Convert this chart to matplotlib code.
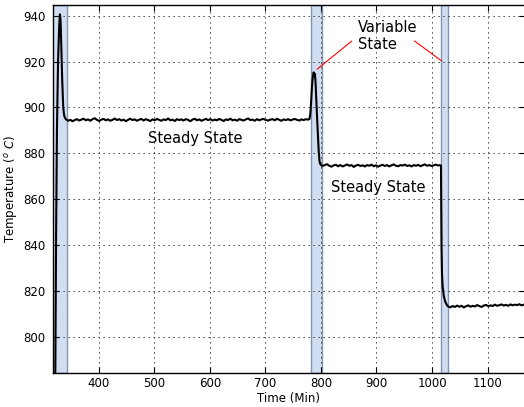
import numpy as np
import matplotlib.pyplot as plt

# Furnace temperature record (min, deg C)
t_rise1 = [321.5, 322.5, 323.5, 325.0, 327.0, 329.0, 330.4, 331.5, 333.0, 334.5,
           336.3, 338.0, 340.0, 342.5]
T_rise1 = [760.0, 800.0, 845.0, 890.0, 920.0, 935.0, 940.6, 938.0, 925.0, 912.0,
           900.0, 896.5, 895.2, 894.6]

t_steady1 = np.arange(345, 778, 4)
T_steady1 = [894.2, 894.6, 894.0, 894.5, 894.9, 894.3, 894.7, 895.1, 894.4, 894.8,
             894.2, 894.9, 895.3, 894.6, 894.1, 894.7, 895.0, 894.4, 894.8, 894.2,
             894.6, 895.2, 894.5, 894.9, 894.3, 894.7, 894.0, 894.6, 895.1, 894.5,
             894.8, 894.2, 894.7, 895.0, 894.3, 894.9, 894.5, 894.1, 894.8, 894.4,
             895.0, 894.6, 894.2, 894.8, 894.5, 895.2, 894.4, 894.7, 894.1, 894.9,
             894.5, 894.8, 894.3, 894.9, 894.6, 894.0, 894.7, 895.1, 894.4, 894.8,
             894.2, 894.6, 895.0, 894.5, 894.9, 894.3, 894.7, 894.4, 895.0, 894.6,
             894.1, 894.8, 894.5, 895.1, 894.4, 894.7, 894.2, 894.9, 894.6, 894.3,
             894.8, 895.2, 894.5, 894.7, 894.2, 894.9, 894.4, 894.8, 895.0, 894.5,
             894.3, 894.7, 894.9, 894.4, 895.1, 894.6, 894.2, 894.8, 894.5, 894.9,
             894.4, 894.7, 895.0, 894.6, 894.3, 894.8, 894.5, 894.9, 894.7]

t_peak2 = [779.5, 781.0, 782.5, 784.0, 785.5, 787.0, 788.2, 789.3, 790.3, 791.5,
           793.0, 794.5, 796.0, 797.5, 799.0, 801.0]
T_peak2 = [895.0, 897.5, 903.0, 909.5, 913.5, 915.3, 913.6, 914.6, 911.0, 904.0,
           896.0, 888.5, 881.0, 876.5, 875.2, 874.8]

t_steady2 = np.arange(803, 1012, 4)
T_steady2 = [874.5, 874.9, 875.3, 874.6, 874.2, 874.8, 875.0, 874.4, 874.9, 874.3,
             874.7, 875.2, 874.6, 874.9, 874.1, 874.7, 875.0, 874.5, 874.8, 874.3,
             874.9, 874.6, 875.1, 874.4, 874.8, 874.2, 874.7, 875.0, 874.5, 874.9,
             874.3, 874.8, 875.2, 874.6, 874.4, 874.9, 874.7, 875.1, 874.5, 874.8,
             874.3, 874.9, 874.6, 875.0, 874.4, 874.8, 875.2, 874.6, 874.9, 874.5,
             874.8, 875.1, 874.7]

t_drop3 = [1014.0, 1016.0, 1016.5, 1017.0, 1017.8, 1019.0, 1021.0, 1023.5, 1026.5]
T_drop3 = [874.9, 874.6, 860.0, 840.0, 828.0, 822.0, 818.0, 815.5, 814.0]

t_steady3 = np.arange(1029, 1168, 4)
T_steady3 = [813.3, 812.9, 813.5, 813.1, 813.7, 813.2, 813.6, 812.9, 813.4, 813.8,
             813.2, 813.6, 813.3, 813.9, 813.5, 813.1, 813.7, 814.0, 813.4, 813.8,
             813.5, 814.1, 813.6, 813.9, 814.2, 813.7, 814.0, 813.6, 814.2, 813.8,
             814.1, 813.9, 814.3, 813.8, 814.1]

# transition windows (min)
bands = [(317, 343.5), (782, 802), (1016, 1029)]

time = np.concatenate([t_rise1, t_steady1, t_peak2, t_steady2, t_drop3, t_steady3])
temp = np.concatenate([T_rise1, T_steady1, T_peak2, T_steady2, T_drop3, T_steady3])

plt.rcParams['font.family'] = 'DejaVu Sans'
plt.rcParams['lines.scale_dashes'] = False
fig = plt.figure(figsize=(5.24, 4.07), dpi=100)
ax = fig.add_axes([0.1006, 0.0828, 0.9013, 0.9042])

for a, b in bands:
    ax.axvspan(a, b, facecolor='#d1ddf0', edgecolor='#8195b3', lw=1.0, zorder=1)

ax.plot(time, temp, color='black', lw=1.5, zorder=3)

ax.set_xlim(317.4, 1167.2)
ax.set_ylim(784.2, 944.5)
ax.set_xticks([400, 500, 600, 700, 800, 900, 1000, 1100])
ax.set_yticks([800, 820, 840, 860, 880, 900, 920, 940])
ax.grid(True, color='#222222', linestyle=(0, (0.9, 2.7)), lw=0.7, zorder=2)
ax.tick_params(direction='in', top=True, right=True, length=4, width=0.8,
               labelsize=8.5)
ax.tick_params(axis='x', pad=3)
ax.tick_params(axis='y', pad=5)
for s in ax.spines.values():
    s.set_linewidth(1.0)

ax.set_xlabel('Time (Min)', fontsize=8.5, labelpad=1)
ax.set_ylabel(r'Temperature ($^o\ C$)', fontsize=8.5, labelpad=3)

ax.text(573, 886.5, 'Steady State', fontsize=10.5, ha='center', va='center')
ax.text(903, 865.0, 'Steady State', fontsize=10.5, ha='center', va='center')
ax.text(866, 931.0, 'Variable\nState', fontsize=10.5, ha='left', va='center',
        multialignment='left')
ax.annotate('', xy=(789.2, 915.9), xytext=(859.5, 929.7),
            arrowprops=dict(arrowstyle='-', color='red', lw=0.8))
ax.annotate('', xy=(1021.4, 919.5), xytext=(964.3, 929.7),
            arrowprops=dict(arrowstyle='-', color='red', lw=0.8))

fig.savefig('out.png', dpi=100)
